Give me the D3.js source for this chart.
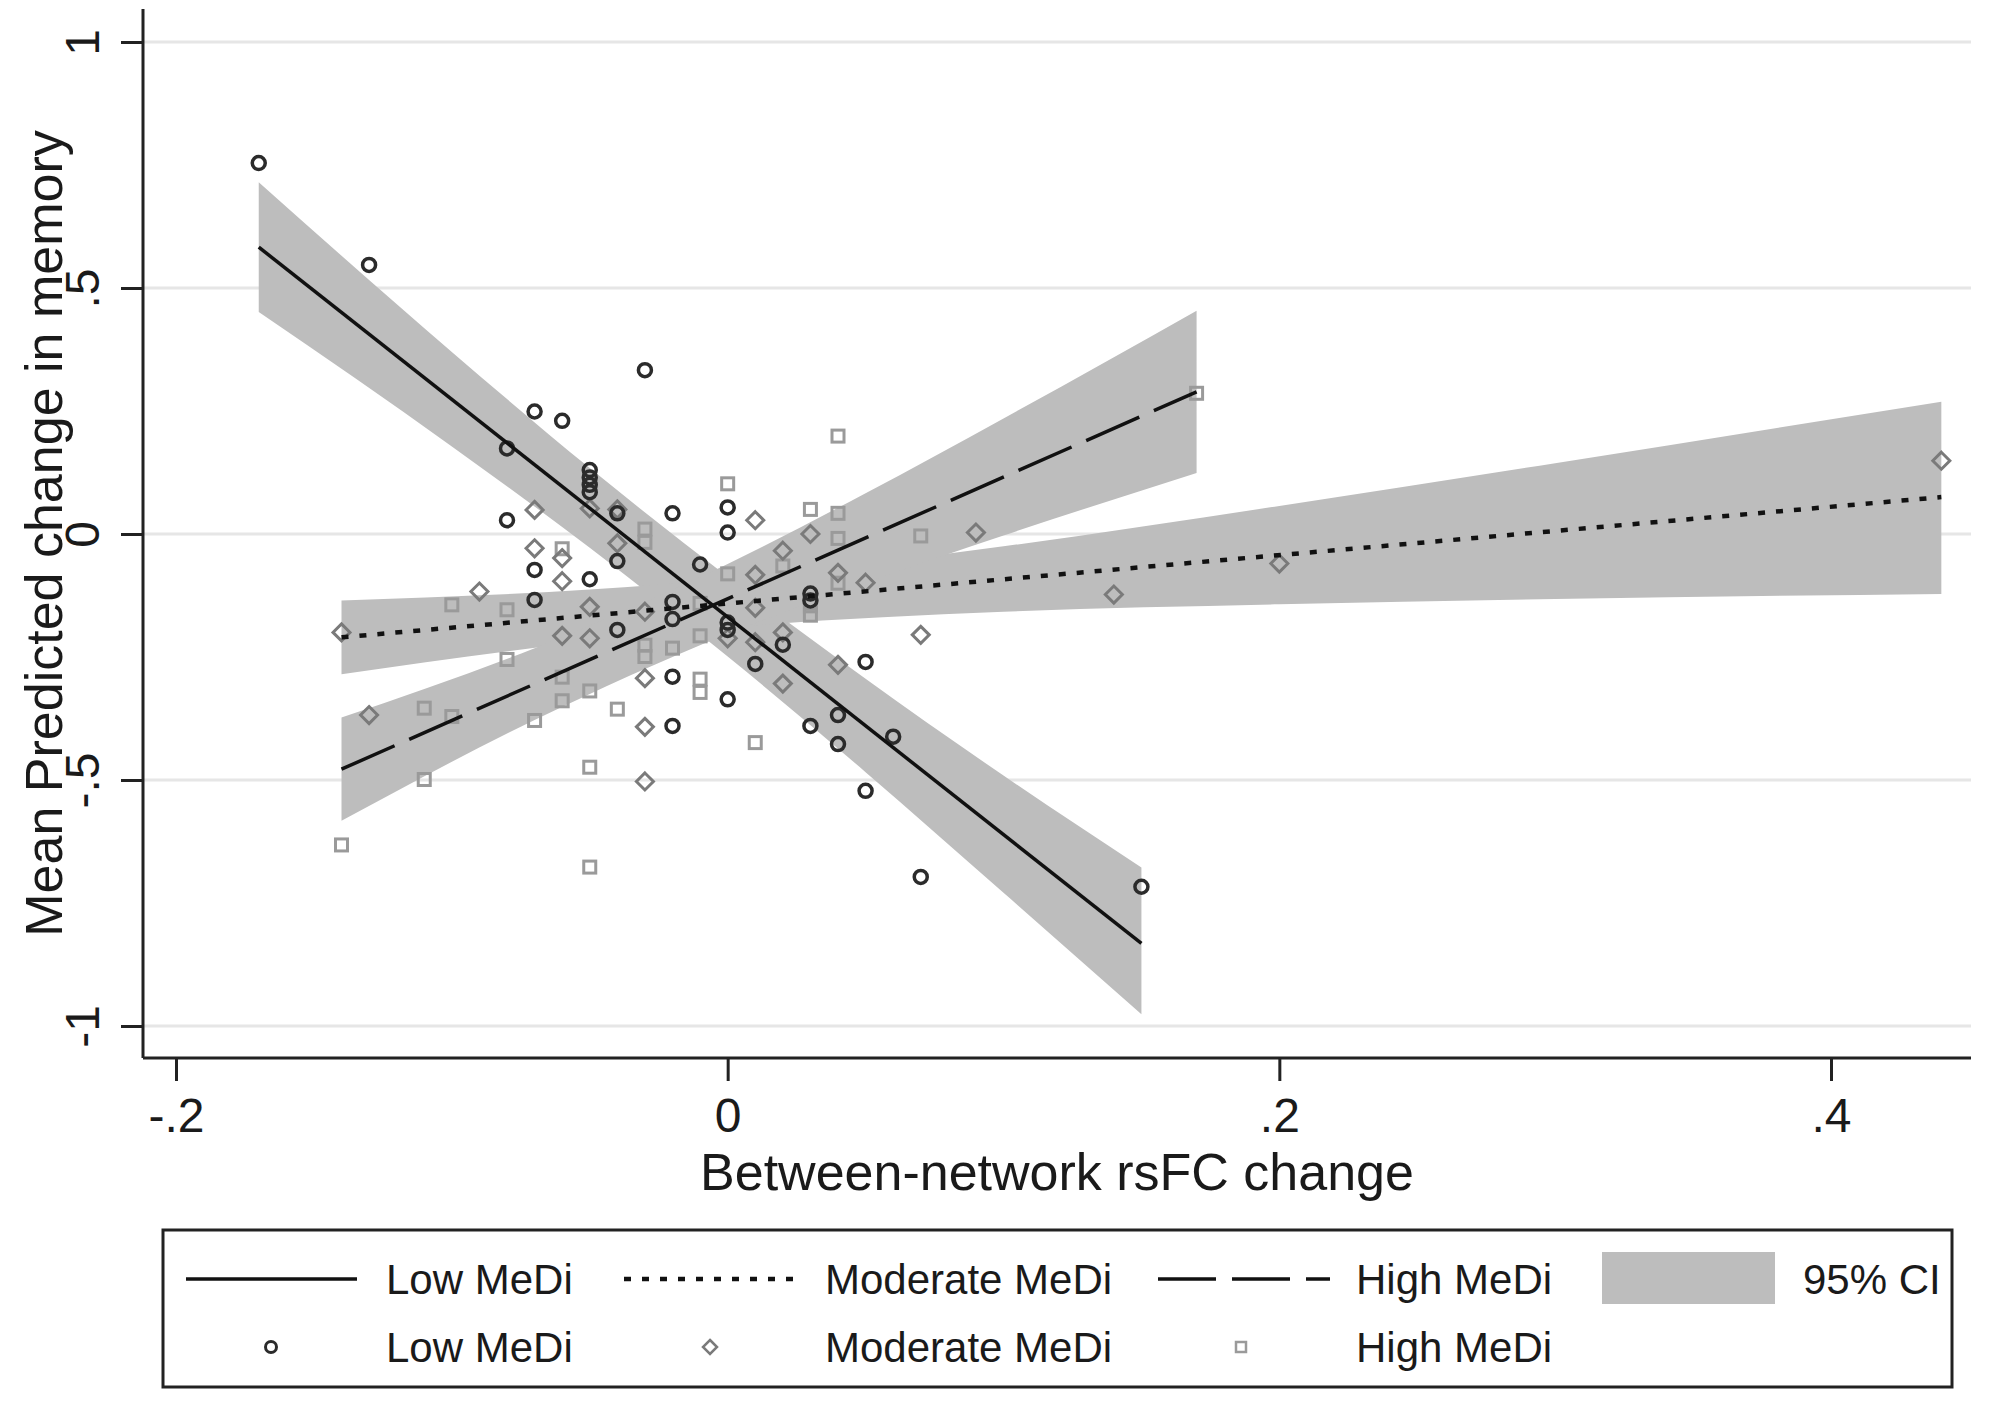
<!DOCTYPE html>
<html>
<head>
<meta charset="utf-8">
<script src="https://cdn.jsdelivr.net/npm/d3@7"></script>
<style>
  body { margin: 0; background: #fff; }
  text { font-family: "Liberation Sans", Arial, Helvetica, sans-serif; fill: #1a1a1a; }
</style>
</head>
<body>
<div id="chart"></div>
<script>
// tick labels (Stata style)
var xTicks = [-0.2, 0, 0.2, 0.4];
var xTickLabels = ["-.2", "0", ".2", ".4"];
var yTicks = [-1, -0.5, 0, 0.5, 1];
var yTickLabels = ["-1", "-.5", "0", ".5", "1"];

// scatter: Low MeDi (circles)
var lowX = [-0.17, -0.13, -0.08, -0.08, -0.07, -0.07, -0.07, -0.06, -0.05, -0.05,
            -0.05, -0.05, -0.05, -0.04, -0.04, -0.04, -0.03, -0.02, -0.02, -0.02,
            -0.02, -0.02, -0.01, 0, 0, 0, 0, 0, 0.01, 0.02,
            0.03, 0.03, 0.03, 0.04, 0.04, 0.05, 0.05, 0.06, 0.07, 0.15];
var lowY = [0.754, 0.547, 0.174, 0.028, 0.249, -0.073, -0.134, 0.230, 0.130, 0.115,
            0.100, 0.085, -0.092, 0.042, -0.055, -0.195, 0.333, 0.042, -0.138, -0.173,
            -0.290, -0.390, -0.062, 0.054, 0.003, -0.180, -0.195, -0.336, -0.264, -0.225,
            -0.121, -0.135, -0.390, -0.368, -0.427, -0.260, -0.522, -0.412, -0.697, -0.717];

// scatter: Moderate MeDi (diamonds)
var modX = [-0.14, -0.13, -0.09, -0.07, -0.07, -0.06, -0.06, -0.06, -0.05, -0.05,
            -0.05, -0.04, -0.04, -0.03, -0.03, -0.03, -0.03, 0, 0.01, 0.01,
            0.01, 0.01, 0.02, 0.02, 0.02, 0.03, 0.04, 0.04, 0.05, 0.07,
            0.09, 0.14, 0.20, 0.44];
var modY = [-0.200, -0.368, -0.117, 0.049, -0.029, -0.049, -0.096, -0.207, -0.148, -0.212,
            0.052, -0.019, 0.050, -0.158, -0.293, -0.392, -0.503, -0.212, 0.028, -0.083,
            -0.150, -0.220, -0.034, -0.200, -0.304, 0.000, -0.079, -0.266, -0.099, -0.205,
            0.003, -0.123, -0.060, 0.149];

// scatter: High MeDi (squares)
var highX = [-0.14, -0.11, -0.11, -0.10, -0.10, -0.08, -0.08, -0.07, -0.06, -0.06,
             -0.06, -0.05, -0.05, -0.05, -0.04, -0.03, -0.03, -0.03, -0.03, -0.02,
             -0.01, -0.01, -0.01, -0.01, 0, 0, 0.01, 0.02, 0.03, 0.03,
             0.03, 0.04, 0.04, 0.04, 0.04, 0.07, 0.17];
var highY = [-0.632, -0.354, -0.499, -0.144, -0.371, -0.154, -0.255, -0.379, -0.030, -0.291,
             -0.339, -0.319, -0.474, -0.677, -0.356, 0.010, -0.017, -0.226, -0.249, -0.232,
             -0.141, -0.207, -0.295, -0.322, 0.102, -0.081, -0.424, -0.065, 0.050, -0.146,
             -0.165, 0.199, 0.042, -0.009, -0.100, -0.004, 0.286];

// fitted lines (end points)
var lowFitX = [-0.17, 0.15],  lowFitY = [0.583, -0.832];
var modFitX = [-0.14, 0.44],  modFitY = [-0.210, 0.075];
var highFitX = [-0.14, 0.17], highFitY = [-0.478, 0.289];

// 95% CI bands, read at a few x positions
var lowBandX  = [-0.17, -0.10, -0.05, 0, 0.05, 0.10, 0.15];
var lowBandLo = [0.451, 0.178, -0.028, -0.249, -0.484, -0.729, -0.976];
var lowBandHi = [0.715, 0.370, 0.134, -0.087, -0.294, -0.491, -0.678];

var modBandX  = [-0.14, -0.05, 0, 0.10, 0.20, 0.30, 0.44];
var modBandLo = [-0.285, -0.218, -0.190, -0.158, -0.143, -0.132, -0.122];
var modBandHi = [-0.135, -0.113, -0.092, -0.025, 0.057, 0.144, 0.269];

var highBandX  = [-0.14, -0.07, 0, 0.05, 0.10, 0.17];
var highBandLo = [-0.583, -0.378, -0.203, -0.099, -0.003, 0.124];
var highBandHi = [-0.373, -0.232, -0.061, 0.083, 0.235, 0.454];

var legendLabels = ["Low MeDi", "Moderate MeDi", "High MeDi", "95% CI"];

var W = 1995, H = 1402;
var plotL = 143, plotR = 1971, plotT = 9, plotB = 1058;

var svg = d3.select("#chart").append("svg")
    .attr("width", W)
    .attr("height", H);

var x = d3.scaleLinear().domain([-0.2, 0.4]).range([176, 1831]);
var y = d3.scaleLinear().domain([-1, 1]).range([1026, 42]);

var bandColor = "#bdbdbd";

// gridlines
svg.append("g").selectAll("line")
   .data(yTicks)
   .enter()
   .append("line")
   .attr("x1", plotL)
   .attr("x2", plotR)
   .attr("y1", function(d) { return y(d); })
   .attr("y2", function(d) { return y(d); })
   .attr("stroke", "#e6e6e6")
   .attr("stroke-width", 3);

function zip(xs, ys) {
    return xs.map(function(v, i) { return [v, ys[i]]; });
}

// bands
var area = d3.area()
    .x(function(d) { return x(d[0]); })
    .y0(function(d) { return y(d[1]); })
    .y1(function(d) { return y(d[2]); })
    .curve(d3.curveMonotoneX);

[[lowBandX, lowBandLo, lowBandHi],
 [modBandX, modBandLo, modBandHi],
 [highBandX, highBandLo, highBandHi]].forEach(function(b) {
    var pts = b[0].map(function(v, i) { return [v, b[1][i], b[2][i]]; });
    svg.append("path")
       .attr("d", area(pts))
       .attr("fill", bandColor);
});

// scatter points
var g = svg.append("g");
g.selectAll("rect.hi")
   .data(zip(highX, highY))
   .enter()
   .append("rect")
   .attr("class", "hi")
   .attr("x", function(d) { return x(d[0]) - 6; })
   .attr("y", function(d) { return y(d[1]) - 6; })
   .attr("width", 12)
   .attr("height", 12)
   .attr("fill", "none")
   .attr("stroke", "#9a9a9a")
   .attr("stroke-width", 3);

g.selectAll("path.mod")
   .data(zip(modX, modY))
   .enter()
   .append("path")
   .attr("class", "mod")
   .attr("d", function(d) {
        var cx = x(d[0]), cy = y(d[1]), r = 8.5;
        return "M" + cx + "," + (cy - r) + "L" + (cx + r) + "," + cy +
               "L" + cx + "," + (cy + r) + "L" + (cx - r) + "," + cy + "Z";
   })
   .attr("fill", "none")
   .attr("stroke", "#7a7a7a")
   .attr("stroke-width", 3);

g.selectAll("circle.low")
   .data(zip(lowX, lowY))
   .enter()
   .append("circle")
   .attr("class", "low")
   .attr("cx", function(d) { return x(d[0]); })
   .attr("cy", function(d) { return y(d[1]); })
   .attr("r", 6.5)
   .attr("fill", "none")
   .attr("stroke", "#2b2b2b")
   .attr("stroke-width", 3.5);

// fit lines
var line = d3.line()
    .x(function(d) { return x(d[0]); })
    .y(function(d) { return y(d[1]); });

var lowDash = null, modDash = "7,11", highDash = "58,16";
[[lowFitX, lowFitY, lowDash], [modFitX, modFitY, modDash], [highFitX, highFitY, highDash]]
  .forEach(function(f) {
    svg.append("path")
       .attr("d", line(zip(f[0], f[1])))
       .attr("fill", "none")
       .attr("stroke", "#111")
       .attr("stroke-width", f[2] === modDash ? 4.5 : 3.5)
       .attr("stroke-dasharray", f[2]);
  });

// axis lines
svg.append("line")
   .attr("x1", plotL).attr("x2", plotL)
   .attr("y1", plotT).attr("y2", plotB)
   .attr("stroke", "#222").attr("stroke-width", 3);
svg.append("line")
   .attr("x1", plotL).attr("x2", plotR)
   .attr("y1", plotB).attr("y2", plotB)
   .attr("stroke", "#222").attr("stroke-width", 3);

// x axis
var xAxis = svg.append("g")
    .attr("transform", "translate(0," + plotB + ")")
    .call(d3.axisBottom(x)
        .tickValues(xTicks)
        .tickSize(23)
        .tickSizeOuter(0)
        .tickPadding(17)
        .tickFormat(function(d, i) { return xTickLabels[i]; }));
xAxis.select(".domain").remove();
xAxis.selectAll("line").attr("stroke", "#222").attr("stroke-width", 3);
xAxis.selectAll("text")
     .attr("font-size", 48)
     .attr("fill", "#1a1a1a")
     .style("font-family", "'Liberation Sans', Arial, sans-serif");

// y axis
var yAxis = svg.append("g")
    .attr("transform", "translate(" + plotL + ",0)")
    .call(d3.axisLeft(y)
        .tickValues(yTicks)
        .tickSize(22)
        .tickSizeOuter(0)
        .tickFormat(function(d, i) { return yTickLabels[i]; }));
yAxis.select(".domain").remove();
yAxis.selectAll("line").attr("stroke", "#222").attr("stroke-width", 3);
yAxis.selectAll("text")
     .attr("x", null)
     .attr("dy", null)
     .attr("transform", "translate(-44,0) rotate(-90)")
     .attr("text-anchor", "middle")
     .attr("font-size", 48)
     .attr("fill", "#1a1a1a")
     .style("font-family", "'Liberation Sans', Arial, sans-serif");

// axis titles
svg.append("text")
   .attr("x", (plotL + plotR) / 2)
   .attr("y", 1190)
   .attr("text-anchor", "middle")
   .attr("font-size", 52)
   .text("Between-network rsFC change");

svg.append("text")
   .attr("transform", "translate(62," + (plotT + plotB) / 2 + ") rotate(-90)")
   .attr("text-anchor", "middle")
   .attr("font-size", 52)
   .text("Mean Predicted change in memory");

// legend
var leg = svg.append("g");
leg.append("rect")
   .attr("x", 163).attr("y", 1230)
   .attr("width", 1789).attr("height", 157)
   .attr("fill", "#fff")
   .attr("stroke", "#222")
   .attr("stroke-width", 3);

var row1 = 1279, row2 = 1347, fs = 42;
var legLines = [
    {x1: 186, x2: 357, tx: 386, dash: lowDash, w: 3.5, label: legendLabels[0]},
    {x1: 624, x2: 794, tx: 825, dash: modDash, w: 4.5, label: legendLabels[1]},
    {x1: 1158, x2: 1330, tx: 1356, dash: highDash, w: 3.5, label: legendLabels[2]}
];
legLines.forEach(function(l) {
    leg.append("line")
       .attr("x1", l.x1).attr("x2", l.x2)
       .attr("y1", row1).attr("y2", row1)
       .attr("stroke", "#111")
       .attr("stroke-width", l.w)
       .attr("stroke-dasharray", l.dash);
    leg.append("text")
       .attr("x", l.tx).attr("y", row1 + 15)
       .attr("font-size", fs)
       .text(l.label);
});
leg.append("rect")
   .attr("x", 1602).attr("y", 1252)
   .attr("width", 173).attr("height", 52)
   .attr("fill", bandColor);
leg.append("text")
   .attr("x", 1803).attr("y", row1 + 15)
   .attr("font-size", fs)
   .text(legendLabels[3]);

// legend markers
leg.append("circle")
   .attr("cx", 271).attr("cy", row2)
   .attr("r", 5.5)
   .attr("fill", "none").attr("stroke", "#2b2b2b").attr("stroke-width", 3);
leg.append("path")
   .attr("d", "M710," + (row2 - 7) + "L717," + row2 + "L710," + (row2 + 7) + "L703," + row2 + "Z")
   .attr("fill", "none").attr("stroke", "#7a7a7a").attr("stroke-width", 2.5);
leg.append("rect")
   .attr("x", 1236).attr("y", row2 - 5)
   .attr("width", 10).attr("height", 10)
   .attr("fill", "none").attr("stroke", "#9a9a9a").attr("stroke-width", 2.5);
leg.append("text")
   .attr("x", 386).attr("y", row2 + 15)
   .attr("font-size", fs).text(legendLabels[0]);
leg.append("text")
   .attr("x", 825).attr("y", row2 + 15)
   .attr("font-size", fs).text(legendLabels[1]);
leg.append("text")
   .attr("x", 1356).attr("y", row2 + 15)
   .attr("font-size", fs).text(legendLabels[2]);
</script>
</body>
</html>
